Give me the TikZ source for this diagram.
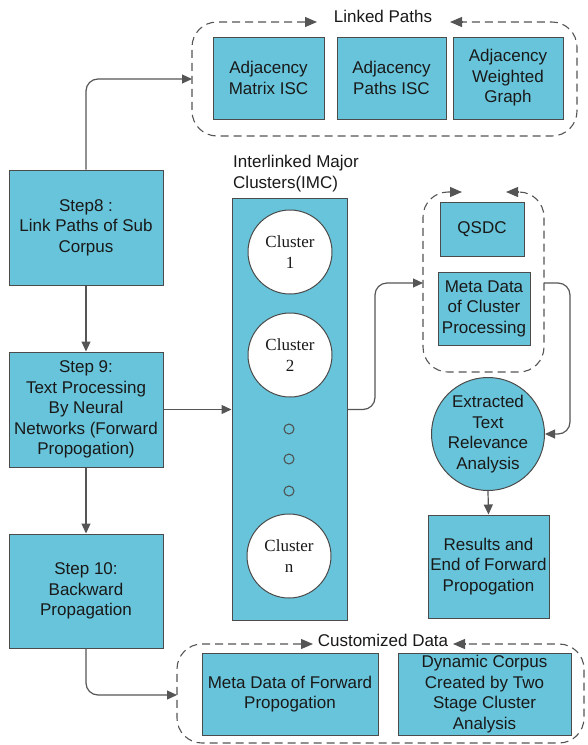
\documentclass[tikz,border=0pt]{standalone}
\usepackage{fontspec}
\setmainfont{Liberation Sans}
\newfontfamily\clfont{Liberation Serif}
\usetikzlibrary{arrows.meta}
\definecolor{boxfill}{RGB}{104,196,218}
\definecolor{boxline}{RGB}{75,75,75}
\definecolor{conn}{RGB}{85,85,85}
\definecolor{txt}{RGB}{25,25,25}
\begin{document}
\begin{tikzpicture}[x=1pt,y=-1pt,
 every node/.style={text=txt, font=\fontsize{17}{20.5}\selectfont},
 box/.style={draw=boxline, fill=boxfill, line width=1pt, align=center, inner sep=0pt},
 clus/.style={circle, draw=boxline, fill=white, line width=1pt, minimum size=84pt, inner sep=0pt, align=center, font=\clfont\fontsize{17}{21}\selectfont},
 smalldot/.style={circle, draw=boxline, line width=1pt, minimum size=10pt, inner sep=0pt},
 arr/.style={draw=conn, line width=1.2pt, -{Triangle[length=10pt,width=9pt]}, rounded corners=12pt},
 grp/.style={draw=conn, line width=1.1pt, dash pattern=on 8pt off 5pt, rounded corners=25pt},
 grptip/.style={draw=conn, line width=1.1pt, -{Triangle[length=12pt,width=10pt]}},
]
\useasboundingbox (0,0) rectangle (587,745);

% Linked paths group
\node[box, minimum width=111pt, minimum height=82pt] (adjm) at (268.5,78) {Adjacency\\Matrix ISC};
\node[box, minimum width=109pt, minimum height=82pt] (adjp) at (391.5,78) {Adjacency\\Paths ISC};
\node[box, minimum width=110pt, minimum height=82pt] (adjw) at (508,78) {Adjacency\\Weighted\\Graph};
\node (lplabel) at (383,16) {Linked Paths};
\coordinate (lpa) at (305,22);
\coordinate (lpb) at (462,22);
\draw[grp] (lpa) -- (192,22) -- (192,136) -- (577,136) -- (577,22) -- (lpb);
\draw[grptip] (lpa) -- (317,22);
\draw[grptip] (lpb) -- (450,22);
\coordinate (lpin) at (192,79);

% Steps
\node[box, minimum width=154pt, minimum height=115pt] (step8) at (86,227.5) {Step8 :\\Link Paths of Sub\\Corpus};
\node[box, minimum width=154pt, minimum height=115pt] (step9) at (86,409.5) {Step 9:\\Text Processing\\By Neural\\Networks (Forward\\Propogation)};
\node[box, minimum width=154pt, minimum height=114pt] (step10) at (86,591) {Step 10:\\Backward\\Propagation};

% IMC
\node[anchor=north west, inner sep=0pt, align=left] (imctitle) at (233,155) {Interlinked Major\\Clusters(IMC)};
\node[box, minimum width=115pt, minimum height=422pt] (imc) at (289.5,409) {};
\node[clus] (c1) at (290,252) {Cluster\\1};
\node[clus] (c2) at (290,355) {Cluster\\2};
\node[smalldot] (d1) at (289,429) {};
\node[smalldot] (d2) at (289,459) {};
\node[smalldot] (d3) at (289,491) {};
\node[clus] (cn) at (289,556) {Cluster\\n};

% QSDC group
\node[box, minimum width=84pt, minimum height=54pt] (qsdc) at (482,229) {QSDC};
\node[box, minimum width=92pt, minimum height=73pt] (meta) at (484,308.5) {Meta Data\\of Cluster\\Processing};
\coordinate (qa) at (450,192);
\coordinate (qb) at (518,192);
\draw[grp] (qa) -- (423,192) -- (423,372) -- (544,372) -- (544,192) -- (qb);
\draw[grptip] (qa) -- (462,192);
\draw[grptip] (qb) -- (506,192);
\coordinate (qin) at (423,283);
\coordinate (qout) at (544,283);

% Extracted / results
\node[box, circle, minimum size=113pt] (extr) at (488,434) {Extracted\\Text\\Relevance\\Analysis};
\node[box, minimum width=121pt, minimum height=103pt] (results) at (488.5,566.5) {Results and\\End of Forward\\Propogation};

% Customized data group
\node[box, minimum width=176pt, minimum height=82pt] (mfp) at (290,694) {Meta Data of Forward\\Propogation};
\node[box, minimum width=173pt, minimum height=82pt] (dyn) at (484.5,694) {Dynamic Corpus\\Created by Two\\Stage Cluster\\Analysis};
\node (cdlabel) at (383,640) {Customized Data};
\coordinate (cda) at (301,644);
\coordinate (cdb) at (465,644);
\draw[grp] (cda) -- (177,644) -- (177,743) -- (584,743) -- (584,644) -- (cdb);
\draw[grptip] (cda) -- (313,644);
\draw[grptip] (cdb) -- (453,644);
\coordinate (cdin) at (177,695);

% Connectors
\draw[arr] (step8.north) |- (lpin);
\draw[arr] (step8.south) -- (step9.north);
\draw[arr] (step9.south) -- (step10.north);
\draw[arr] (step9.east) -- (imc.west |- step9.east);
\draw[arr] (imc.east |- step9.east) -- (375,409.5) -- (375,283) -- (qin);
\draw[arr] (qout) -- (570,283) -- (570,434) -- (extr.east);
\draw[arr] (extr.south) -- (results.north);
\draw[arr] (step10.south) |- (cdin);
\end{tikzpicture}
\end{document}
